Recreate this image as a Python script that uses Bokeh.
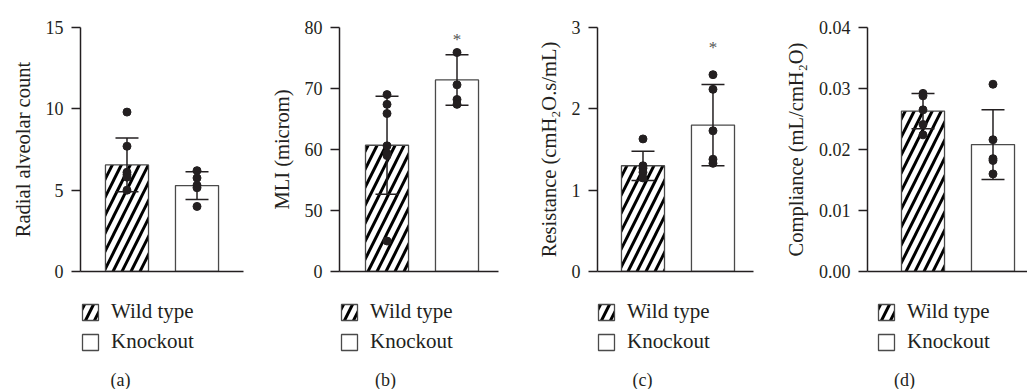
from bokeh.plotting import figure
from bokeh.layouts import row, column
from bokeh.models import (ColumnDataSource, Whisker, TeeHead, FixedTicker, Legend,
                          LegendItem, Label, Range1d)
from bokeh.embed import file_html
from bokeh.resources import INLINE
from bokeh.core.properties import value

# ---------------- data ----------------
categories = ["Wild type", "Knockout"]
group_x = [1, 2]

rac_mean = [6.55, 5.28]
rac_sd = [1.65, 0.85]
rac_wt_pts = [9.8, 7.7, 6.1, 5.95, 5.8, 5.0]
rac_ko_pts = [6.2, 5.75, 5.3, 5.15, 4.0]

mli_mean = [60.7, 71.4]
mli_sd = [8.05, 4.15]
mli_wt_pts = [69.0, 67.4, 65.9, 60.6, 59.4, 59.0, 45.0]
mli_ko_pts = [75.9, 70.6, 68.2, 67.4]
mli_star = 78.0

res_mean = [1.30, 1.80]
res_sd = [0.18, 0.50]
res_wt_pts = [1.63, 1.30, 1.27, 1.22, 1.15]
res_ko_pts = [2.42, 2.24, 1.73, 1.38, 1.33]
res_star = 2.76

comp_mean = [0.0263, 0.0208]
comp_sd = [0.0029, 0.0057]
comp_wt_pts = [0.0292, 0.0288, 0.0265, 0.0241, 0.0224]
comp_ko_pts = [0.0307, 0.0216, 0.0185, 0.0182, 0.0160]

rac_ticks = [0, 5, 10, 15]
mli_ticks = [40, 50, 60, 70, 80]
mli_tick_labels = {40: "0"}
res_ticks = [0, 1, 2, 3]
comp_ticks = [0.0, 0.01, 0.02, 0.03, 0.04]
comp_tick_labels = {0.0: "0.00", 0.01: "0.01", 0.02: "0.02", 0.03: "0.03", 0.04: "0.04"}

panel_letters = ["(a)", "(b)", "(c)", "(d)"]

# ---------------- style ----------------
INK = "#231f20"
EDGE = "#4a4a4a"
FONT = "Liberation Serif"
MAIN_H = 290
LEG_H = 99

WT_STYLE = dict(fill_color="white", line_color=EDGE, line_width=1.3,
                hatch_pattern="/", hatch_color="black", hatch_scale=18, hatch_weight=3)
KO_STYLE = dict(fill_color="white", line_color=EDGE, line_width=1.3)


def make_panel(mean, sd, wt_pts, ko_pts, ylab, yr, ticks, overrides, xr,
               width, left, right, letter, letter_x, legend_x, star=None):
    p = figure(width=width, height=MAIN_H, output_backend="svg", toolbar_location=None,
               x_range=Range1d(*xr), y_range=Range1d(*yr),
               min_border_left=left, min_border_right=right,
               min_border_top=27, min_border_bottom=MAIN_H - 27 - 244)
    p.outline_line_color = None
    p.grid.visible = False

    base = yr[0]
    src = ColumnDataSource(dict(x=group_x, top=mean,
                                upper=[m + s for m, s in zip(mean, sd)],
                                lower=[m - s for m, s in zip(mean, sd)]))
    p.vbar(x=[group_x[0]], top=[mean[0]], bottom=base, width=0.615, **WT_STYLE)
    p.vbar(x=[group_x[1]], top=[mean[1]], bottom=base, width=0.615, **KO_STYLE)

    w = Whisker(source=src, base="x", upper="upper", lower="lower",
                line_color=INK, line_width=1.5,
                upper_head=TeeHead(size=23, line_color=INK, line_width=1.5),
                lower_head=TeeHead(size=23, line_color=INK, line_width=1.5))
    w.level = "guide"
    p.add_layout(w)

    p.scatter(x=[group_x[0]] * len(wt_pts), y=wt_pts, size=8, color=INK, level="overlay")
    p.scatter(x=[group_x[1]] * len(ko_pts), y=ko_pts, size=8, color=INK, level="overlay")

    if star is not None:
        p.text(x=[group_x[1]], y=[star], text=["*"], text_align="center",
               text_baseline="middle", text_font=value(FONT),
               text_font_size="17px", text_color="#555555")

    ya = p.yaxis[0]
    ya.ticker = FixedTicker(ticks=ticks)
    ya.major_label_overrides = overrides
    ya.minor_tick_line_color = None
    ya.major_tick_in = 0
    ya.major_tick_out = 9
    ya.major_tick_line_color = INK
    ya.major_tick_line_width = 1.5
    ya.axis_line_color = INK
    ya.axis_line_width = 1.5
    ya.major_label_text_font = FONT
    ya.major_label_text_font_size = "18px"
    ya.major_label_text_color = INK
    ya.major_label_standoff = 8
    ya.axis_label = ylab
    ya.axis_label_text_font = FONT
    ya.axis_label_text_font_style = "normal"
    ya.axis_label_text_font_size = "20.5px"
    ya.axis_label_text_color = INK
    ya.axis_label_standoff = 9

    xa = p.xaxis[0]
    xa.ticker = FixedTicker(ticks=[])
    xa.major_tick_line_color = None
    xa.minor_tick_line_color = None
    xa.major_tick_out = 0
    xa.major_tick_in = 0
    xa.major_label_standoff = 0
    xa.major_label_text_font_size = "0px"
    xa.axis_line_color = INK
    xa.axis_line_width = 1.5

    # legend strip under the chart (its frame is aligned with the chart frame)
    q = figure(width=width, height=LEG_H, output_backend="svg", toolbar_location=None,
               x_axis_type=None, y_axis_type=None, x_range=Range1d(0, 1), y_range=Range1d(0, 1),
               min_border_left=0, min_border_right=0, min_border_top=0, min_border_bottom=0)
    q.outline_line_color = None
    q.grid.visible = False
    r_wt = q.vbar(x=[group_x[0]], top=[mean[0]], width=0.615, visible=False, **WT_STYLE)
    r_ko = q.vbar(x=[group_x[1]], top=[mean[1]], width=0.615, visible=False, **KO_STYLE)
    leg = Legend(items=[LegendItem(label=categories[0], renderers=[r_wt]),
                        LegendItem(label=categories[1], renderers=[r_ko])],
                 location=(legend_x, 35), orientation="vertical", click_policy="none",
                 padding=0, margin=0, spacing=5, border_line_color=None,
                 background_fill_alpha=0, glyph_width=20, glyph_height=20,
                 label_height=20, label_standoff=11,
                 label_text_font=FONT, label_text_font_size="21px",
                 label_text_color=INK)
    q.add_layout(leg)
    q.add_layout(Label(x=letter_x, y=10, x_units="screen", y_units="screen",
                       text=letter, text_align="center", text_baseline="middle",
                       text_font=FONT, text_font_size="18px", text_color=INK))
    return column(p, q, spacing=0)


pa = make_panel(rac_mean, rac_sd, rac_wt_pts, rac_ko_pts, "Radial alveolar count",
                (0, 15), rac_ticks, {}, (0.336, 2.664), 255, 80, 12,
                panel_letters[0], 40, 0)
pb = make_panel(mli_mean, mli_sd, mli_wt_pts, mli_ko_pts, "MLI (microm)",
                (40, 80), mli_ticks, mli_tick_labels, (0.321, 2.593), 260, 84, 17,
                panel_letters[1], 46, 0, star=mli_star)
pc = make_panel(res_mean, res_sd, res_wt_pts, res_ko_pts, "Resistance (cmH\u2082O.s/mL)",
                (0, 3), res_ticks, {}, (0.35, 2.579), 260, 82, 22,
                panel_letters[2], 45, -1, star=res_star)
pd_ = make_panel(comp_mean, comp_sd, comp_wt_pts, comp_ko_pts, "Compliance (mL/cmH\u2082O)",
                 (0, 0.04), comp_ticks, comp_tick_labels, (0.207, 2.493), 252, 92, 0,
                 panel_letters[3], 37, 9)

layout = row(pa, pb, pc, pd_, spacing=0)
open("out.html", "w").write(file_html(layout, INLINE))
